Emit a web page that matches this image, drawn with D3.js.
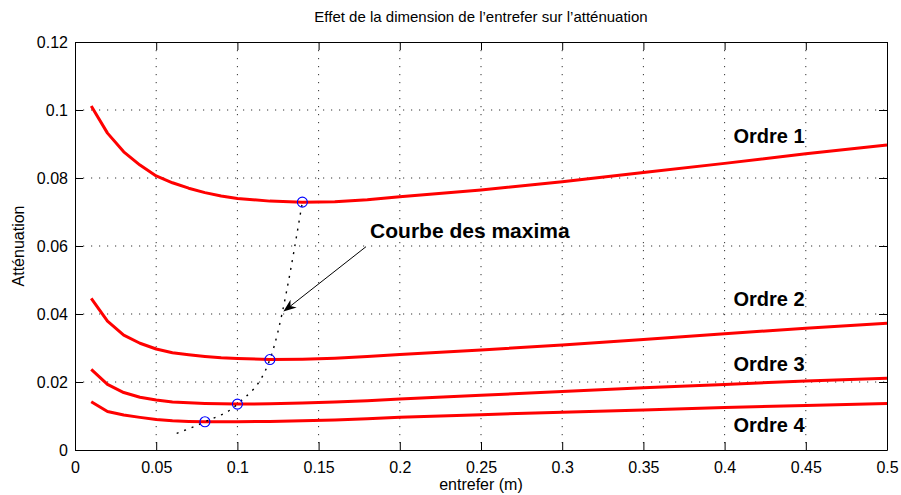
<!DOCTYPE html>
<html>
<head>
<meta charset="utf-8">
<script src="https://cdn.jsdelivr.net/npm/d3@7"></script>
<style>
  body { margin: 0; background: #fff; }
  svg { display: block; font-family: 'Liberation Sans', Arial, sans-serif; }
</style>
</head>
<body>
<div id="chart"></div>
<script>
// entrefer values (m)
const gapX = [0.01, 0.02, 0.03, 0.04, 0.05, 0.06, 0.07, 0.08, 0.09, 0.10, 0.12, 0.14, 0.16, 0.18, 0.20, 0.25, 0.30, 0.35, 0.40, 0.45, 0.50];
const ordre1 = [0.1012, 0.0932, 0.0877, 0.0838, 0.0806, 0.0786, 0.0770, 0.0757, 0.0747, 0.0740, 0.0732, 0.0729, 0.0730, 0.0736, 0.0745, 0.0765, 0.0789, 0.0816, 0.0843, 0.0871, 0.0897];
const ordre2 = [0.0446, 0.0379, 0.0338, 0.0314, 0.0297, 0.0286, 0.0280, 0.0275, 0.0271, 0.0269, 0.0266, 0.0267, 0.0270, 0.0275, 0.0281, 0.0294, 0.0309, 0.0325, 0.0342, 0.0358, 0.0373];
const ordre3 = [0.0237, 0.0193, 0.0169, 0.0155, 0.0147, 0.0141, 0.0139, 0.0137, 0.0136, 0.0135, 0.0136, 0.0138, 0.0141, 0.0145, 0.0150, 0.0161, 0.0172, 0.0183, 0.0193, 0.0203, 0.0211];
const ordre4 = [0.0142, 0.0113, 0.0103, 0.0096, 0.0090, 0.0086, 0.0084, 0.0083, 0.0083, 0.0083, 0.0084, 0.0086, 0.0088, 0.0092, 0.0096, 0.0104, 0.0111, 0.0118, 0.0125, 0.0131, 0.0137];
const seriesNames = ['Ordre 1', 'Ordre 2', 'Ordre 3', 'Ordre 4'];
const labelY = [0.0924, 0.0446, 0.0255, 0.0074];

// courbe des maxima
const maxCurveX = [0.0626, 0.08, 0.10, 0.12, 0.14];
const maxCurveY = [0.0049, 0.0083, 0.0135, 0.0266, 0.0729];
const markerX = [0.08, 0.10, 0.12, 0.14];
const markerY = [0.0083, 0.0135, 0.0266, 0.0729];

const xTicks = [0, 0.05, 0.1, 0.15, 0.2, 0.25, 0.3, 0.35, 0.4, 0.45, 0.5];
const yTicks = [0, 0.02, 0.04, 0.06, 0.08, 0.1, 0.12];

const W = 901, H = 495;
const margin = { top: 42, right: 14, bottom: 45, left: 75 };
const width = W - margin.left - margin.right;
const height = H - margin.top - margin.bottom;

const svg = d3.select('#chart').append('svg')
  .attr('width', W).attr('height', H);
const g = svg.append('g').attr('transform', `translate(${margin.left},${margin.top})`);

const x = d3.scaleLinear().domain([0, 0.5]).range([0, width]);
const y = d3.scaleLinear().domain([0, 0.12]).range([height, 0]);
const fmt = d => d === 0 ? '0' : String(+d.toFixed(2));

// grid
g.append('g').selectAll('line').data(xTicks.slice(1, -1)).enter().append('line')
  .attr('x1', d => x(d)).attr('x2', d => x(d)).attr('y1', 0).attr('y2', height)
  .attr('stroke', '#333').attr('stroke-width', 1).attr('stroke-dasharray', '1.2,6.8');
g.append('g').selectAll('line').data(yTicks.slice(1, -1)).enter().append('line')
  .attr('y1', d => y(d)).attr('y2', d => y(d)).attr('x1', 0).attr('x2', width)
  .attr('stroke', '#333').attr('stroke-width', 1).attr('stroke-dasharray', '1.2,6.8');

// axes (ticks inward, box)
const tickLen = 8;
const xb = g.append('g').attr('transform', `translate(0,${height})`)
  .call(d3.axisBottom(x).tickValues(xTicks).tickFormat(fmt).tickSizeInner(-tickLen).tickSizeOuter(0).tickPadding(12));
const xt = g.append('g')
  .call(d3.axisTop(x).tickValues(xTicks).tickFormat('').tickSizeInner(-tickLen).tickSizeOuter(0));
const yl = g.append('g')
  .call(d3.axisLeft(y).tickValues(yTicks).tickFormat(fmt).tickSizeInner(-tickLen).tickSizeOuter(0).tickPadding(7));
const yr = g.append('g').attr('transform', `translate(${width},0)`)
  .call(d3.axisRight(y).tickValues(yTicks).tickFormat('').tickSizeInner(-tickLen).tickSizeOuter(0));
[xb, xt, yl, yr].forEach(a => {
  a.select('.domain').attr('stroke', '#000').attr('stroke-width', 1);
  a.selectAll('.tick line').attr('stroke', '#000');
  a.selectAll('.tick text')
    .style('font-family', "'Liberation Sans', Arial, sans-serif")
    .style('font-size', '16px').attr('fill', '#000');
});

// series
const allSeries = [ordre1, ordre2, ordre3, ordre4];
const line = d3.line().x(d => x(d[0])).y(d => y(d[1]));
allSeries.forEach(vals => {
  g.append('path')
    .datum(gapX.map((v, i) => [v, vals[i]]))
    .attr('d', line)
    .attr('fill', 'none').attr('stroke', '#ff0000').attr('stroke-width', 3)
    .attr('stroke-linejoin', 'round');
});

// curve of maxima
const maxLine = d3.line().curve(d3.curveMonotoneX).x(d => x(d[0])).y(d => y(d[1]));
g.append('path')
  .datum(maxCurveX.map((v, i) => [v, maxCurveY[i]]))
  .attr('d', maxLine)
  .attr('fill', 'none').attr('stroke', '#000').attr('stroke-width', 1.4)
  .attr('stroke-dasharray', '2,6');

g.selectAll('.maxpt').data(markerX.map((v, i) => [v, markerY[i]])).enter().append('circle')
  .attr('class', 'maxpt')
  .attr('cx', d => x(d[0])).attr('cy', d => y(d[1])).attr('r', 5)
  .attr('fill', 'none').attr('stroke', '#0000ff').attr('stroke-width', 1.1);

// labels
g.selectAll('.ordre').data(seriesNames).enter().append('text')
  .attr('class', 'ordre')
  .attr('x', x(0.4055)).attr('y', (d, i) => y(labelY[i]))
  .attr('dy', '0.36em')
  .style('font-size', '20px').style('font-weight', 'bold')
  .text(d => d);

// annotation arrow
const arrowFrom = [0.1792, 0.0598];
const arrowTo = [0.1283, 0.0407];
g.append('text')
  .attr('x', x(0.1817)).attr('y', y(0.0647)).attr('dy', '0.36em')
  .style('font-size', '21px').style('font-weight', 'bold')
  .text('Courbe des maxima');

const x0 = x(arrowFrom[0]), y0 = y(arrowFrom[1]);
const x1 = x(arrowTo[0]), y1 = y(arrowTo[1]);
const ang = Math.atan2(y1 - y0, x1 - x0);
const headL = 13, headW = 5;
g.append('line')
  .attr('x1', x0).attr('y1', y0)
  .attr('x2', x1 - Math.cos(ang) * headL * 0.6).attr('y2', y1 - Math.sin(ang) * headL * 0.6)
  .attr('stroke', '#000').attr('stroke-width', 1);
const bx = x1 - Math.cos(ang) * headL, by = y1 - Math.sin(ang) * headL;
const nx = -Math.sin(ang), ny = Math.cos(ang);
const notch = [x1 - Math.cos(ang) * headL * 0.7, y1 - Math.sin(ang) * headL * 0.7];
g.append('path')
  .attr('d', `M${x1},${y1}L${bx + nx * headW},${by + ny * headW}L${notch[0]},${notch[1]}L${bx - nx * headW},${by - ny * headW}Z`)
  .attr('fill', '#000');

// titles
svg.append('text')
  .attr('x', margin.left + width / 2).attr('y', 22)
  .attr('text-anchor', 'middle').style('font-size', '15px')
  .text('Effet de la dimension de l’entrefer sur l’atténuation');
svg.append('text')
  .attr('x', margin.left + width / 2).attr('y', 490)
  .attr('text-anchor', 'middle').style('font-size', '16px')
  .text('entrefer (m)');
svg.append('text')
  .attr('transform', `translate(24,${margin.top + height / 2}) rotate(-90)`)
  .attr('text-anchor', 'middle').style('font-size', '16px')
  .text('Atténuation');
</script>
</body>
</html>
